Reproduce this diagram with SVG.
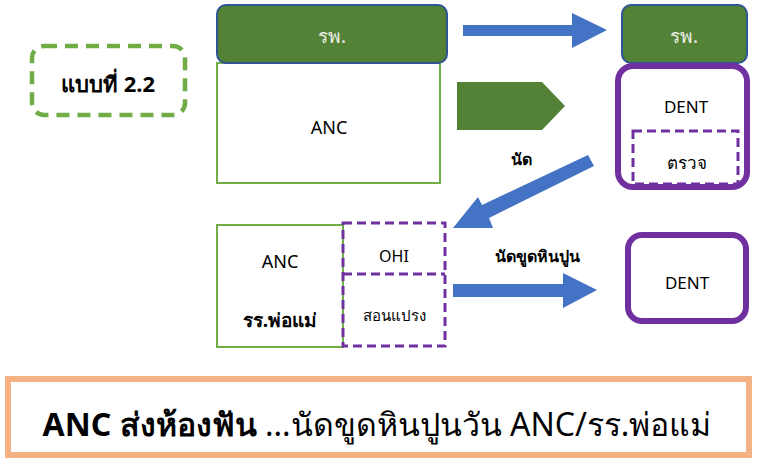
<svg xmlns="http://www.w3.org/2000/svg" width="759" height="460" viewBox="0 0 759 460">
<style>
text{font-family:"Noto Sans","DejaVu Sans",sans-serif;text-anchor:middle;dominant-baseline:central;fill:#000}
.hdr{fill:#538135;stroke:#2f5597;stroke-width:2}
.hdrt{fill:#e8efe4;font-size:19px}
.grn{fill:#fff;stroke:#70ad47;stroke-width:2}
.dent{fill:#fff;stroke:#7030a0;stroke-width:6}
.pdash{fill:none;stroke:#7030a0;stroke-width:3;stroke-dasharray:9 5}
.blue{fill:#4472c4}
.b{font-weight:bold}
</style>
<rect width="759" height="460" fill="#fff"/>
<g id="title">
<rect x="32" y="46" width="153" height="69" rx="12" fill="#fff" stroke="#70ad47" stroke-width="4.5" stroke-dasharray="13 8"/>
<text class="b" x="108" y="83" font-size="22">แบบที่ 2.2</text>
</g>
<g id="hosp1">
<rect class="grn" x="217" y="63" width="223" height="120"/>
<text x="329" y="127" font-size="18">ANC</text>
<rect class="hdr" x="217" y="5" width="230" height="58" rx="9"/>
<text class="hdrt" x="332" y="36">รพ.</text>
</g>
<g id="hosp2">
<rect class="hdr" x="622" y="5" width="125" height="58" rx="9"/>
<text class="hdrt" x="684" y="36">รพ.</text>
</g>
<g id="dent1">
<rect class="dent" x="618" y="66" width="129" height="121" rx="15"/>
<text x="686" y="106" font-size="17">DENT</text>
<rect class="pdash" x="633" y="131" width="105" height="53"/>
<text x="687" y="162" font-size="17">ตรวจ</text>
</g>
<g id="school">
<rect class="grn" x="217" y="225" width="126" height="122"/>
<text x="280" y="261" font-size="18">ANC</text>
<text class="b" x="280" y="320" font-size="19">รร.พ่อแม่</text>
<rect class="pdash" x="343" y="223" width="102" height="123"/>
<line x1="343" y1="274" x2="445" y2="274" stroke="#7030a0" stroke-width="3" stroke-dasharray="9 5"/>
<text x="394" y="256" font-size="16" fill="#333">OHI</text>
<text x="394" y="315" font-size="15" fill="#333">สอนแปรง</text>
</g>
<g id="dent2">
<rect class="dent" x="628" y="235" width="118" height="86" rx="14"/>
<text x="687" y="282" font-size="17">DENT</text>
</g>
<g id="connectors">
<polygon class="blue" points="463,25 572,25 572,13 607,30 572,48 572,36 463,36"/>
<polygon fill="#538135" points="457,82 542,82 565,106 542,130 457,130"/>
<polygon class="blue" points="453,228 478,197 482,205 588,155 594,166 489,218 493,228"/>
<polygon class="blue" points="453,284 563,284 563,273 597,290 563,308 563,297 453,297"/>
<text class="b" x="521" y="159" font-size="16">นัด</text>
<text class="b" x="537" y="256" font-size="16">นัดขูดหินปูน</text>
</g>
<g id="note">
<rect x="8" y="379" width="741" height="76" fill="#fff" stroke="#f4b183" stroke-width="6"/>
<text x="377" y="423" font-size="32"><tspan class="b">ANC ส่งห้องฟัน</tspan> ...นัดขูดหินปูนวัน ANC/รร.พ่อแม่</text>
</g>
</svg>
